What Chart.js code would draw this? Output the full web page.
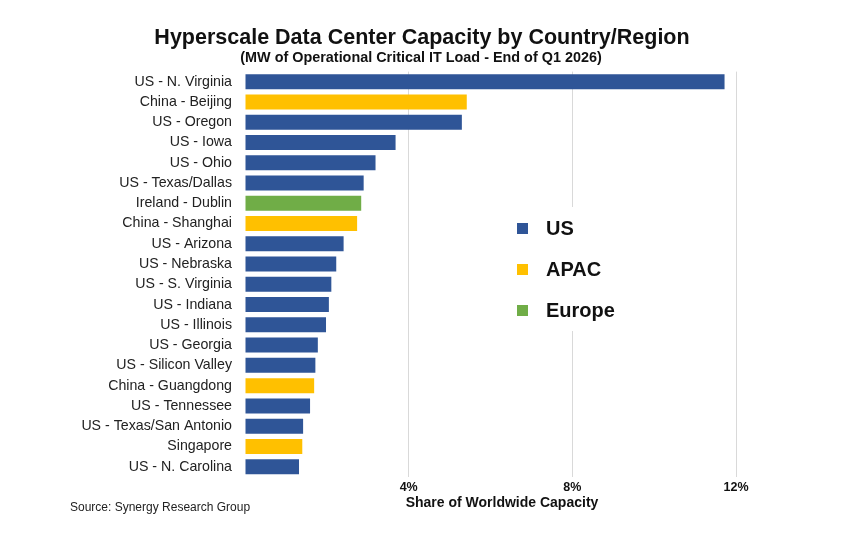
<!DOCTYPE html>
<html>
<head>
<meta charset="utf-8">
<script src="https://cdn.jsdelivr.net/npm/chart.js@4.4.1/dist/chart.umd.min.js"></script>
<style>
  html, body { margin: 0; padding: 0; background: #ffffff; }
  #wrap { width: 845px; height: 536px; position: relative; }
</style>
</head>
<body>
<div id="wrap"><canvas id="c" width="845" height="536"></canvas></div>
<script>
const categories = [
  "US - N. Virginia", "China - Beijing", "US - Oregon", "US - Iowa", "US - Ohio",
  "US - Texas/Dallas", "Ireland - Dublin", "China - Shanghai", "US - Arizona", "US - Nebraska",
  "US - S. Virginia", "US - Indiana", "US - Illinois", "US - Georgia", "US - Silicon Valley",
  "China - Guangdong", "US - Tennessee", "US - Texas/San Antonio", "Singapore", "US - N. Carolina"
];
const shares = [
  11.72, 5.42, 5.30, 3.68, 3.19,
  2.90, 2.84, 2.74, 2.41, 2.23,
  2.11, 2.05, 1.98, 1.78, 1.72,
  1.69, 1.59, 1.42, 1.40, 1.32
];
const regionOf = [
  "US", "APAC", "US", "US", "US",
  "US", "Europe", "APAC", "US", "US",
  "US", "US", "US", "US", "US",
  "APAC", "US", "US", "APAC", "US"
];
const regions = ["US", "APAC", "Europe"];
const regionColors = ["#2F5597", "#FFC000", "#70AD47"];
const xTicks = [4, 8, 12];

const titleText = 'Hyperscale Data Center Capacity by Country/Region';
const subtitleText = '(MW of Operational Critical IT Load - End of Q1 2026)';
const xAxisTitle = 'Share of Worldwide Capacity';
const sourceText = 'Source: Synergy Research Group';

const FONT = "'Liberation Sans', Arial, Helvetica, sans-serif";

const datasets = regions.map((r, k) => ({
  label: r,
  data: shares.map((v, i) => regionOf[i] === r ? v : null),
  backgroundColor: regionColors[k],
  borderWidth: 0,
  categoryPercentage: 1.0,
  barPercentage: 0.74
}));

const extrasPlugin = {
  id: 'extras',
  afterDatasetsDraw(chart) {
    const ctx = chart.ctx;
    ctx.save();
    // titles
    ctx.fillStyle = '#111111';
    ctx.textAlign = 'center';
    ctx.textBaseline = 'alphabetic';
    ctx.font = 'bold 21.5px ' + FONT;
    ctx.fillText(titleText, 422, 43.5);
    ctx.font = 'bold 14.4px ' + FONT;
    ctx.fillText(subtitleText, 421, 61.5);
    // legend box
    ctx.fillStyle = '#ffffff';
    ctx.fillRect(505, 207, 130, 124);
    const ys = [228.5, 269.5, 310.5];
    chart.data.datasets.forEach((ds, i) => {
      ctx.fillStyle = ds.backgroundColor;
      ctx.fillRect(517, ys[i] - 5.5, 11, 11);
      ctx.fillStyle = '#111111';
      ctx.font = 'bold 20px ' + FONT;
      ctx.textBaseline = 'middle';
      ctx.textAlign = 'left';
      ctx.fillText(ds.label, 546, ys[i] + 1);
    });
    // axis title
    ctx.font = 'bold 14px ' + FONT;
    ctx.fillStyle = '#111111';
    ctx.textAlign = 'center';
    ctx.textBaseline = 'middle';
    ctx.fillText(xAxisTitle, 502, 503.5);
    // source
    ctx.font = '12px ' + FONT;
    ctx.fillStyle = '#222222';
    ctx.textAlign = 'left';
    ctx.fillText(sourceText, 70, 507.5);
    ctx.restore();
  }
};

new Chart(document.getElementById('c'), {
  type: 'bar',
  data: { labels: categories, datasets: datasets },
  options: {
    indexAxis: 'y',
    responsive: false,
    animation: false,
    devicePixelRatio: 1,
    layout: { padding: { left: 0, right: 109, top: 71.6, bottom: 0 } },
    plugins: {
      legend: { display: false },
      tooltip: { enabled: false },
      title: { display: false },
      subtitle: { display: false }
    },
    scales: {
      x: {
        stacked: true,
        min: 0,
        max: 12,
        afterBuildTicks(scale) { scale.ticks = [0].concat(xTicks).map(v => ({ value: v })); },
        afterFit(scale) { scale.height = 59.2; },
        border: { display: false },
        grid: {
          drawTicks: false,
          color: (c) => c.tick && c.tick.value === 0 ? 'rgba(0,0,0,0)' : '#d9d9d9',
          lineWidth: 1
        },
        ticks: {
          padding: 3,
          color: '#111111',
          font: { family: FONT, size: 12.5, weight: 'bold' },
          callback: (v) => v === 0 ? '' : v + '%'
        }
      },
      y: {
        stacked: true,
        afterFit(scale) { scale.width = 245; },
        border: { display: false },
        grid: { display: false, drawTicks: false },
        ticks: {
          padding: 13,
          color: '#222222',
          autoSkip: false,
          font: { family: FONT, size: 14.2 }
        }
      }
    }
  },
  plugins: [extrasPlugin]
});
</script>
</body>
</html>
